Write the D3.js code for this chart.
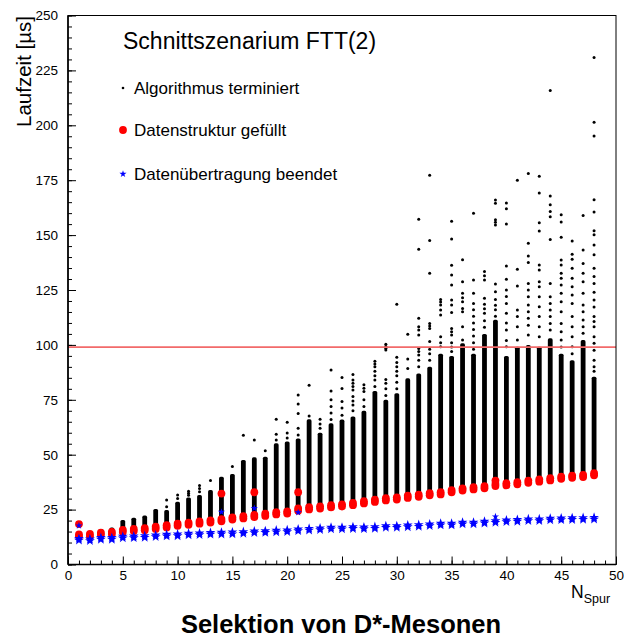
<!DOCTYPE html>
<html><head><meta charset="utf-8">
<script src="https://cdn.jsdelivr.net/npm/d3@7"></script>
<style>
body{margin:0;background:#fff}
svg{display:block}
text{font-family:"Liberation Sans",Arial,Helvetica,sans-serif}
</style>
</head><body>
<svg id="c" width="624" height="637"></svg>
<script>
// ---------- data ----------
const nSpur = [1,2,3,4,5,6,7,8,9,10,11,12,13,14,15,16,17,18,19,20,21,22,23,24,25,26,27,28,29,30,31,32,33,34,35,36,37,38,39,40,41,42,43,44,45,46,47,48];
const redMain = [13.2,13.4,14.0,14.4,15.3,15.7,16.1,16.7,17.4,18.1,18.6,19.1,19.6,20.2,21.0,21.5,22.1,22.6,23.3,23.7,25.0,25.6,26.0,26.5,26.9,27.5,28.3,29.0,29.7,30.1,30.8,31.3,32.0,32.4,33.4,34.2,34.7,35.2,36.2,36.5,37.0,37.7,38.2,38.8,39.5,40.0,40.3,41.1];
const blueMain = [11.4,11.2,11.8,11.8,12.4,12.5,12.7,13.0,13.3,13.4,13.8,13.9,14.1,14.2,14.3,14.5,14.8,14.9,15.2,15.3,15.7,16.0,16.2,16.5,16.5,16.7,16.6,16.8,17.2,17.2,17.5,17.7,18.0,18.3,18.3,18.8,18.8,19.2,19.5,19.8,20.0,20.3,20.3,20.6,20.7,20.8,20.9,21.0];
const redOutliers = [[1,18.4],[14,32.3],[17,32.9],[21,32.9],[39,38.2]];
const blueOutliers = [[1,17.7],[14,23.9],[17,25.6],[21,23.7],[39,21.8]];
// top of the solid (dense) part of the black column for each N
const blackSolidTop = [13,14,16.2,16.9,20.3,21.3,22.3,25.3,24.8,28.6,30.5,31.6,33.9,40,41.2,47.6,48.8,49.1,55.2,56,57.4,66.1,60,64.3,66,67.4,70,79,75,78,84.8,87,90,96,95,100.7,96,105,111.4,95,99.2,99.9,99.2,103,96,93,102.2,85.5];
// isolated black points above the solid part, for each N
const blackSparse = [
 [],[],[],[],[],[],[],[],
 [26.3,29.4],
 [30,31.6],
 [31.5,32.5,33.4],
 [33.1,34.6,36],
 [38.3],
 [],
 [44.6],
 [58.9],
 [56.7],
 [51.8],
 [56.7,59.3,66.1],
 [57.6,59.9,64.8],
 [59,62,68.8,73.1,77.2],
 [67.6,81.6],
 [62,64,66.1],
 [66,69,72,75,79,88.6],
 [68,71.3,74.2,80.2,85.2],
 [70,72.6,74.5,76.5,79.5,81,82.5,84,86.5],
 [72,75,78.8,80.3,81.9],
 [81,84,86,88,90,91.3,92.5],
 [77,80,82.5,84.3,97.7,98.5,99.3,100.3],
 [80,83,86,88,90,92,94.4,118.5],
 [89.3,93.6,104.9],
 [90,93,95.4,97,98.4,104.5,106.8,108.3,112.1,143.5,157.2],
 [93,96,98,101.5,107.5,108.6,109.8,132.6,147.5,177.2],
 [99.2,101,103.7,113.6,115.9,118.2,119.5,120.7],
 [97,99,101,104.5,106,107.5,114.7,118.2,120.5,127.3,131.8,136.3,148.2,156.3],
 [102.2,108.3,115.1,116.6,119.7,121.5,123.5,128.8,138.8],
 [98,101,104,107,110,113,116,118.9,123.5,129.5,159.9],
 [108,111,114.4,116.5,118.5,121.3,129.6,131.5,133.4],
 [113,116,118,120.7,124.2,127.7,154.6,155.8,157,164.5,166],
 [99.2,102,106.8,110,114.4,118.9,122,125,129.9,135.9,155,162,164.6],
 [102.2,108.3,112.9,115.9,126.8,134.4,175],
 [104.5,109,112.1,115.1,118.2,121.9,125,128,137.5,140.5,146.3,178],
 [103.7,108.3,112.9,117.4,121.9,126.5,128.8,134.1,136.4,151.9,155.6,169.2,176.8],
 [106.8,109.8,112.9,115.9,118.9,121.9,128,148,158.4,160.8,163.8,167.8,215.8],
 [99,102.2,106,109.8,115.1,119.7,123.5,127.3,130.3,132.6,136.4,138.7,149,156,159.3],
 [96,99.2,103.7,108.3,112.9,118.9,122.7,126.5,130.3,134.9,139,141.3,147.3],
 [105.3,108.3,111.3,115.1,118.2,123.5,128.8,132.6,137.1,143.2,158.9],
 [88,90.1,93,97.6,100.7,103.7,108.3,110.6,112.9,117.3,120.4,124,128,131.1,134.9,141,145.5,150.2,152,160.5,166.1,195.1,201.4,230.9]
];
const cutValue = 99;
const xTicks = [0,5,10,15,20,25,30,35,40,45,50];
const yTicks = [0,25,50,75,100,125,150,175,200,225,250];
const legendTitle = "Schnittszenarium FTT(2)";
const legendLabels = ["Algorithmus terminiert","Datenstruktur gefüllt","Datenübertragung beendet"];

// ---------- drawing ----------
const svg = d3.select("#c");
const x = d3.scaleLinear().domain([0,50]).range([68,616]);
const y = d3.scaleLinear().domain([0,250]).range([564.5,15.5]);

// black dense columns
svg.append("g").selectAll("rect").data(nSpur).join("rect")
  .attr("x", n => x(n) - 2.4)
  .attr("width", 4.8)
  .attr("y", (n,i) => y(blackSolidTop[i]))
  .attr("height", (n,i) => Math.max(0, y(redMain[i] - 1) - y(blackSolidTop[i])))
  .attr("rx", 1.6)
  .attr("fill", "#000");

// black sparse points
const sparse = [];
nSpur.forEach((n,i) => blackSparse[i].forEach(v => sparse.push([n,v])));
svg.append("g").selectAll("circle").data(sparse).join("circle")
  .attr("cx", d => x(d[0])).attr("cy", d => y(d[1])).attr("r", 1.5).attr("fill", "#000");

// red blobs
const redPts = [];
nSpur.forEach((n,i) => { redPts.push([n, redMain[i]-0.5]); redPts.push([n, redMain[i]+0.5]); });
redOutliers.forEach(d => redPts.push(d));
svg.append("g").selectAll("circle").data(redPts).join("circle")
  .attr("cx", d => x(d[0])).attr("cy", d => y(d[1])).attr("r", 3.9).attr("fill", "#ff0000");

// blue stars
const star = d3.symbol().type(d3.symbolStar);
const bluePts = [];
nSpur.forEach((n,i) => { bluePts.push([n, blueMain[i]-0.4, 30]); bluePts.push([n, blueMain[i]+0.4, 30]); });
blueOutliers.forEach(d => bluePts.push([d[0], d[1], 16]));
svg.append("g").selectAll("path").data(bluePts).join("path")
  .attr("transform", d => `translate(${x(d[0])},${y(d[1])})`)
  .attr("d", d => star.size(d[2])())
  .attr("fill", "#0000ff");

// cut line
svg.append("line")
  .attr("x1", x(0)).attr("x2", x(50)).attr("y1", y(cutValue)).attr("y2", y(cutValue))
  .attr("stroke", "#f26a6a").attr("stroke-width", 1.6);

// axes
const fontSize = 13.5;
const gx = svg.append("g").attr("transform", `translate(0,${y(0)})`);
gx.call(d3.axisBottom(x).tickValues(d3.range(0,51,1)).tickSize(-4).tickFormat(""));
const gx2 = svg.append("g").attr("transform", `translate(0,${y(0)})`);
gx2.call(d3.axisBottom(x).tickValues(xTicks).tickSize(-8).tickPadding(6).tickFormat(d3.format("d")));
const gy = svg.append("g").attr("transform", `translate(${x(0)},0)`);
gy.call(d3.axisLeft(y).tickValues(d3.range(0,251,5)).tickSize(-4).tickFormat(""));
const gy2 = svg.append("g").attr("transform", `translate(${x(0)},0)`);
gy2.call(d3.axisLeft(y).tickValues(yTicks).tickSize(-8).tickPadding(10).tickFormat(d3.format("d")));
[gx,gx2,gy,gy2].forEach(g => {
  g.select(".domain").remove();
  g.selectAll("line").attr("stroke","#000").attr("stroke-width",1);
  g.selectAll("text").attr("font-size", fontSize).attr("fill","#000")
   .attr("font-family",'"Liberation Sans",Arial,sans-serif');
});

// frame
svg.append("rect").attr("x", x(0)).attr("y", y(250))
  .attr("width", x(50)-x(0)).attr("height", y(0)-y(250))
  .attr("fill","none").attr("stroke","#000").attr("stroke-width",1);
svg.append("line").attr("x1",x(0)).attr("x2",x(0)).attr("y1",y(250)).attr("y2",y(0)).attr("stroke","#000").attr("stroke-width",1.6);
svg.append("line").attr("x1",x(0)).attr("x2",x(50)).attr("y1",y(0)).attr("y2",y(0)).attr("stroke","#000").attr("stroke-width",1.6);

// axis titles
svg.append("text").attr("transform","translate(31,16) rotate(-90)")
  .attr("text-anchor","end").attr("font-size",20.5).text("Laufzeit [µs]");
const nt = svg.append("text").attr("x",571).attr("y",598).attr("font-size",17.5);
nt.append("tspan").text("N");
nt.append("tspan").attr("font-size",12.5).attr("dy",5).text("Spur");
svg.append("text").attr("x",341).attr("y",633).attr("text-anchor","middle")
  .attr("font-size",25.5).attr("font-weight","bold").text("Selektion von D*-Mesonen");

// legend
svg.append("text").attr("x",123).attr("y",49).attr("font-size",23).text(legendTitle);
const legY = [88,130,174];
svg.append("circle").attr("cx",123).attr("cy",legY[0]).attr("r",1.3).attr("fill","#000");
svg.append("circle").attr("cx",123).attr("cy",legY[1]).attr("r",3.9).attr("fill","#ff0000");
svg.append("path").attr("transform",`translate(123,${legY[2]})`).attr("d",star.size(16)()).attr("fill","#0000ff");
legendLabels.forEach((t,i) => {
  svg.append("text").attr("x",134).attr("y",legY[i]+6).attr("font-size",17).text(t);
});
</script>
</body></html>
